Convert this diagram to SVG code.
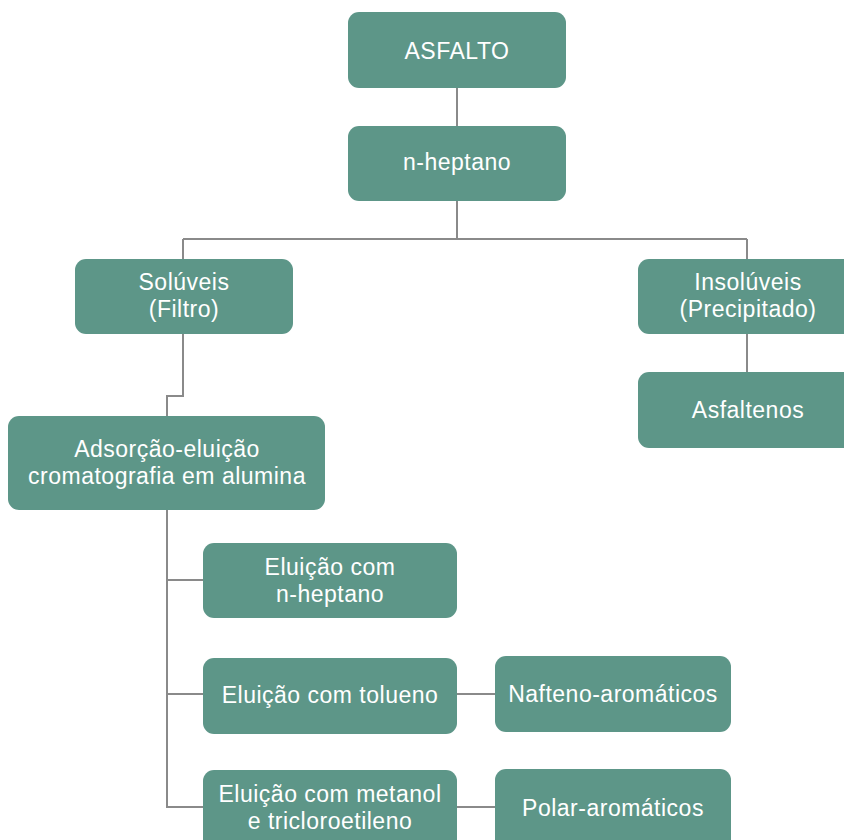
<svg xmlns="http://www.w3.org/2000/svg" width="844" height="840" viewBox="0 0 844 840">
<style>
.box{fill:#5d9688;}
.t{fill:#ffffff;font-family:"Liberation Sans",Arial,sans-serif;font-size:23px;letter-spacing:0.5px;text-anchor:middle;}
.c{fill:none;stroke:#8a8a8a;stroke-width:2;}
</style>
<rect width="844" height="840" fill="#ffffff"/>
<g id="connectors">
<path class="c" d="M457 88V126"/>
<path class="c" d="M457 201V239M183 239H747M183 239V259M747 239V259"/>
<path class="c" d="M183 334V396H167V416"/>
<path class="c" d="M747 334V372"/>
<path class="c" d="M167 510V807H203M167 580H203M167 694H203"/>
<path class="c" d="M457 694H495M457 807H495"/>
</g>
<g id="asfalto"><rect class="box" x="348" y="12" width="218" height="76" rx="11"/><text class="t" x="457" y="59">ASFALTO</text></g>
<g id="nheptano"><rect class="box" x="348" y="126" width="218" height="75" rx="11"/><text class="t" x="457" y="170">n-heptano</text></g>
<g id="soluveis"><rect class="box" x="75" y="259" width="218" height="75" rx="11"/><text class="t" x="184" y="290">Solúveis</text><text class="t" x="184" y="317">(Filtro)</text></g>
<g id="insoluveis"><rect class="box" x="638" y="259" width="220" height="75" rx="11"/><text class="t" x="748" y="290">Insolúveis</text><text class="t" x="748" y="317">(Precipitado)</text></g>
<g id="asfaltenos"><rect class="box" x="638" y="372" width="220" height="76" rx="11"/><text class="t" x="748" y="418">Asfaltenos</text></g>
<g id="adsorcao"><rect class="box" x="8" y="416" width="317" height="94" rx="11"/><text class="t" x="167" y="457">Adsorção-eluição</text><text class="t" x="167" y="484">cromatografia em alumina</text></g>
<g id="eluicao-heptano"><rect class="box" x="203" y="543" width="254" height="75" rx="11"/><text class="t" x="330" y="575">Eluição com</text><text class="t" x="330" y="602">n-heptano</text></g>
<g id="eluicao-tolueno"><rect class="box" x="203" y="658" width="254" height="76" rx="11"/><text class="t" x="330" y="703">Eluição com tolueno</text></g>
<g id="eluicao-metanol"><rect class="box" x="203" y="770" width="254" height="85" rx="11"/><text class="t" x="330" y="802">Eluição com metanol</text><text class="t" x="330" y="829">e tricloroetileno</text></g>
<g id="nafteno"><rect class="box" x="495" y="656" width="236" height="76" rx="11"/><text class="t" x="613" y="702">Nafteno-aromáticos</text></g>
<g id="polar"><rect class="box" x="495" y="769" width="236" height="85" rx="11"/><text class="t" x="613" y="816">Polar-aromáticos</text></g>
</svg>
